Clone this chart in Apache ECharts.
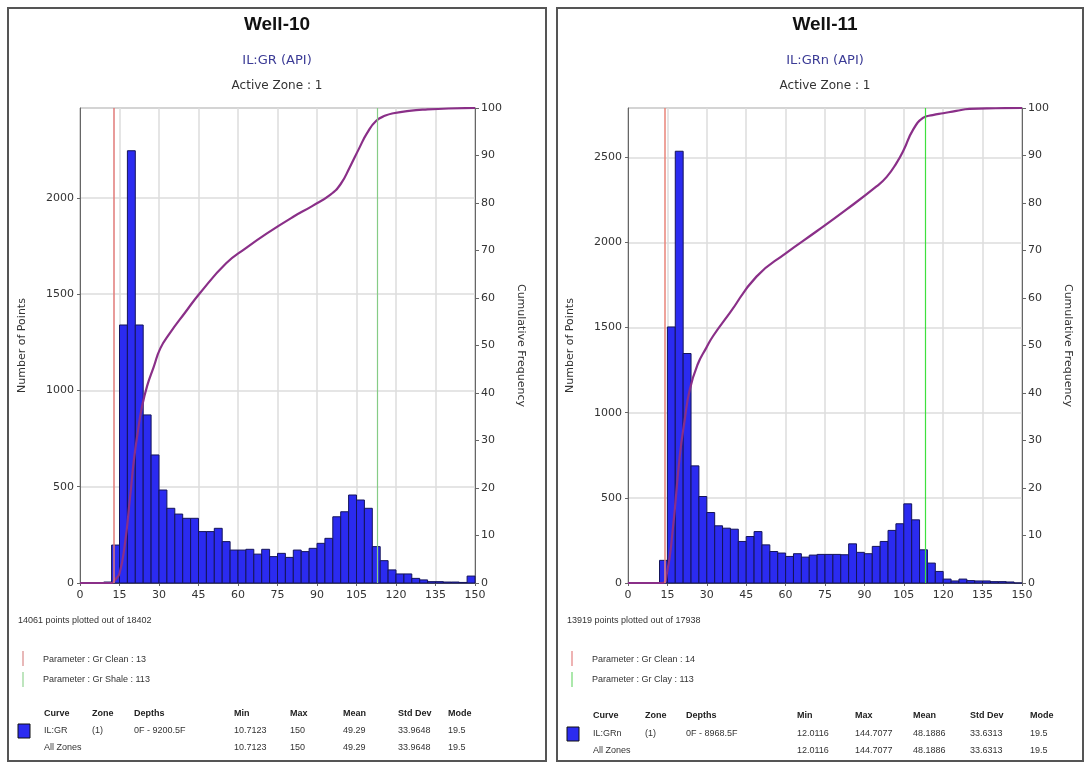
<!DOCTYPE html>
<html>
<head>
<meta charset="utf-8">
<script src="https://cdn.jsdelivr.net/npm/echarts@6/dist/echarts.min.js"></script>
<style>
html, body { margin: 0; background: #fff; }
#chart { width: 1085px; height: 764px; }
</style>
</head>
<body>
<div id="chart"></div>
<script>
const binWidth = 3;
const xTicks = { min: 0, max: 150, interval: 15 };

// counts per 3-unit bin: 0-3, 3-6, ... 147-150
const well10Counts = [0, 0, 0, 5, 197, 1340, 2245, 1340, 873, 665,
    483, 388, 358, 336, 336, 267, 267, 284, 215, 171,
    171, 175, 150, 175, 137, 154, 133, 171, 163, 180,
    206, 232, 344, 370, 457, 431, 388, 189, 116, 68,
    47, 47, 24, 16, 7, 7, 5, 5, 3, 36];
const well11Counts = [0, 0, 0, 0, 133, 1504, 2536, 1348, 688, 508,
    414, 336, 322, 316, 244, 273, 302, 224, 185, 176,
    156, 172, 152, 164, 168, 168, 168, 166, 230, 180,
    172, 215, 244, 309, 348, 465, 371, 195, 117, 68,
    23, 12, 23, 14, 12, 12, 8, 8, 6, 0];

// cumulative frequency curves (%)
const well10CumX = [0, 12, 13.5, 15, 17, 19, 20.5, 22, 23.5, 25.5, 28, 30.5, 34, 40, 45.5, 55.5, 63, 71, 81, 88, 95, 99, 102.5, 106, 109, 112.5, 116, 119, 125, 132, 140, 150];
const well10CumY = [0, 0, 0.8, 2, 8, 18, 26, 32, 37, 41.5, 45.5, 49.4, 52.5, 57, 61, 67.3, 70.5, 73.6, 77.1, 79.3, 81.7, 84, 87.6, 91.5, 94.7, 97.3, 98.4, 98.9, 99.4, 99.7, 99.9, 100];
const well11CumX = [0, 13, 14.8, 17, 19.7, 21.5, 23.5, 26.5, 29.8, 32.4, 38.7, 48.9, 60.3, 71.7, 83.1, 94.6, 98.5, 102.2, 105, 108.5, 112.3, 116, 120, 125, 130, 140, 150];
const well11CumY = [0, 0, 2, 11, 26.7, 34, 40.7, 46, 49.5, 52, 56.8, 64.5, 69.5, 74, 78.6, 83.5, 85.5, 88.4, 91.2, 95.4, 97.9, 98.5, 98.9, 99.4, 99.8, 99.95, 100];

const well10Max = 2467;
const well11Max = 2790;

const tableHeads = ["Curve", "Zone", "Depths", "Min", "Max", "Mean", "Std Dev", "Mode"];
const well10Row = ["IL:GR", "(1)", "0F - 9200.5F", "10.7123", "150", "49.29", "33.9648", "19.5"];
const well10All = ["All Zones", "", "", "10.7123", "150", "49.29", "33.9648", "19.5"];
const well11Row = ["IL:GRn", "(1)", "0F - 8968.5F", "12.0116", "144.7077", "48.1886", "33.6313", "19.5"];
const well11All = ["All Zones", "", "", "12.0116", "144.7077", "48.1886", "33.6313", "19.5"];

const font = "DejaVu Sans";
const small = "Liberation Sans";

function barSeries(counts, idx) {
    return {
        type: "custom",
        xAxisIndex: idx,
        yAxisIndex: idx * 2,
        z: 3,
        data: counts.map((c, i) => [i * binWidth, (i + 1) * binWidth, c]),
        encode: { x: [0, 1], y: 2 },
        renderItem: function (params, api) {
            let p0 = api.coord([api.value(0), api.value(2)]);
            let p1 = api.coord([api.value(1), 0]);
            return {
                type: "rect",
                shape: { x: p0[0], y: p0[1], width: p1[0] - p0[0], height: p1[1] - p0[1] },
                style: { fill: "#2b2bf0", stroke: "#14145a", lineWidth: 1 }
            };
        }
    };
}

function cumSeries(xs, ys, idx) {
    return {
        type: "line",
        xAxisIndex: idx,
        yAxisIndex: idx * 2 + 1,
        z: 4,
        data: xs.map((x, i) => [x, ys[i]]),
        smooth: 0.5,
        showSymbol: false,
        lineStyle: { color: "#8a2f88", width: 2.2 }
    };
}

function markerSeries(idx, clean, shale, redColor, greenColor) {
    return {
        type: "line",
        xAxisIndex: idx,
        yAxisIndex: idx * 2,
        z: 1,
        data: [],
        markLine: {
            symbol: "none",
            silent: true,
            animation: false,
            label: { show: false },
            data: [
                { xAxis: clean, lineStyle: { color: redColor, width: 1.5, type: "solid" } },
                { xAxis: shale, lineStyle: { color: greenColor, width: 1.2, type: "solid" } }
            ]
        }
    };
}

function xAxis(idx) {
    return {
        type: "value", gridIndex: idx, min: xTicks.min, max: xTicks.max, interval: xTicks.interval,
        axisLine: { lineStyle: { color: "#666" } },
        axisTick: { show: true, length: 3, lineStyle: { color: "#666" } },
        splitLine: { show: true, lineStyle: { color: "#dcdcdc", width: 1.5 } },
        axisLabel: { fontFamily: font, fontSize: 11, color: "#333", margin: 7 }
    };
}

function yAxes(idx, max) {
    return [
        {
            type: "value", gridIndex: idx, min: 0, max: max, interval: 500, position: "left",
            name: "Number of Points", nameLocation: "middle", nameGap: 52, nameRotate: 90,
            nameTextStyle: { fontFamily: font, fontSize: 11, color: "#333" },
            axisLine: { show: true, lineStyle: { color: "#666" } },
            axisTick: { show: true, length: 3, lineStyle: { color: "#666" } },
            splitLine: { show: true, lineStyle: { color: "#dcdcdc", width: 1.5 } },
            axisLabel: {
                fontFamily: font, fontSize: 11, color: "#333", margin: 6, showMaxLabel: false,
                formatter: v => String(v)
            }
        },
        {
            type: "value", gridIndex: idx, min: 0, max: 100, interval: 10, position: "right",
            name: "Cumulative Frequency", nameLocation: "middle", nameGap: 40, nameRotate: -90,
            nameTextStyle: { fontFamily: font, fontSize: 11, color: "#333" },
            axisLine: { show: true, lineStyle: { color: "#666" } },
            axisTick: { show: true, length: 4, lineStyle: { color: "#666" } },
            splitLine: { show: false },
            axisLabel: { fontFamily: font, fontSize: 11, color: "#333", margin: 6 }
        }
    ];
}

function text(x, y, str, f, color, align) {
    return {
        type: "text", x: x, y: y, silent: true,
        style: {
            text: str, font: f, fill: color || "#333",
            align: align || "left", textAlign: align || "left",
            verticalAlign: "middle", textVerticalAlign: "middle"
        }
    };
}

function panelGraphics(p) {
    let g = [];
    g.push({
        type: "rect", silent: true,
        shape: { x: p.frame[0], y: p.frame[1], width: p.frame[2], height: p.frame[3] },
        style: { fill: "none", stroke: "#555", lineWidth: 2 }
    });
    g.push(text(p.cx, 25, p.title, "bold 19px " + small, "#111", "center"));
    g.push(text(p.cx, 61, p.curve, "13px " + font, "#3c3c96", "center"));
    g.push(text(p.cx, 86, "Active Zone : 1", "12px " + font, "#333", "center"));

    g.push(text(p.x0 + 10, 621, p.points, "9px " + small, "#333"));
    g.push({ type: "line", silent: true, shape: { x1: p.x0 + 15, y1: 651, x2: p.x0 + 15, y2: 666 }, style: { stroke: p.red, lineWidth: 1.5 } });
    g.push({ type: "line", silent: true, shape: { x1: p.x0 + 15, y1: 672, x2: p.x0 + 15, y2: 687 }, style: { stroke: p.green, lineWidth: 1.5 } });
    g.push(text(p.x0 + 35, 660, p.param1, "9px " + small, "#333"));
    g.push(text(p.x0 + 35, 680, p.param2, "9px " + small, "#333"));

    tableHeads.forEach((h, i) => g.push(text(p.cols[i], p.rowY[0], h, "bold 9px " + small, "#222")));
    p.row.forEach((v, i) => g.push(text(p.cols[i], p.rowY[1], v, "9px " + small, "#333")));
    p.all.forEach((v, i) => g.push(text(p.cols[i], p.rowY[2], v, "9px " + small, "#333")));
    g.push({
        type: "rect", silent: true,
        shape: { x: p.x0 + 10, y: p.rowY[1] - 7, width: 12, height: 14 },
        style: { fill: "#2b2bf0", stroke: "#111", lineWidth: 1 }
    });
    return g;
}

let chartDom = document.getElementById("chart");
let myChart = echarts.init(chartDom);

let graphics = panelGraphics({
    frame: [8, 8, 538, 753], x0: 8, cx: 277,
    title: "Well-10", curve: "IL:GR (API)",
    points: "14061 points plotted out of 18402",
    param1: "Parameter : Gr Clean : 13", param2: "Parameter : Gr Shale : 113",
    red: "#e0a0a0", green: "#a8dca8",
    cols: [44, 92, 134, 234, 290, 343, 398, 448], rowY: [714, 731, 748],
    row: well10Row, all: well10All
}).concat(panelGraphics({
    frame: [557, 8, 526, 753], x0: 557, cx: 825,
    title: "Well-11", curve: "IL:GRn (API)",
    points: "13919 points plotted out of 17938",
    param1: "Parameter : Gr Clean : 14", param2: "Parameter : Gr Clay : 113",
    red: "#e89a9a", green: "#8fe08f",
    cols: [593, 645, 686, 797, 855, 913, 970, 1030], rowY: [716, 734, 751],
    row: well11Row, all: well11All
}));

let option = {
    animation: false,
    backgroundColor: "#fff",
    grid: [
        { left: 80, top: 108, width: 395, height: 475, show: true, borderColor: "#777", borderWidth: 1 },
        { left: 628, top: 108, width: 394, height: 475, show: true, borderColor: "#777", borderWidth: 1 }
    ],
    xAxis: [xAxis(0), xAxis(1)],
    yAxis: yAxes(0, well10Max).concat(yAxes(1, well11Max)),
    graphic: graphics,
    series: [
        markerSeries(0, 13, 113, "#e07a78", "#86cc86"),
        barSeries(well10Counts, 0),
        cumSeries(well10CumX, well10CumY, 0),
        markerSeries(1, 14, 113, "#e8857a", "#3ee03e"),
        barSeries(well11Counts, 1),
        cumSeries(well11CumX, well11CumY, 1)
    ]
};

option && myChart.setOption(option);
</script>
</body>
</html>
